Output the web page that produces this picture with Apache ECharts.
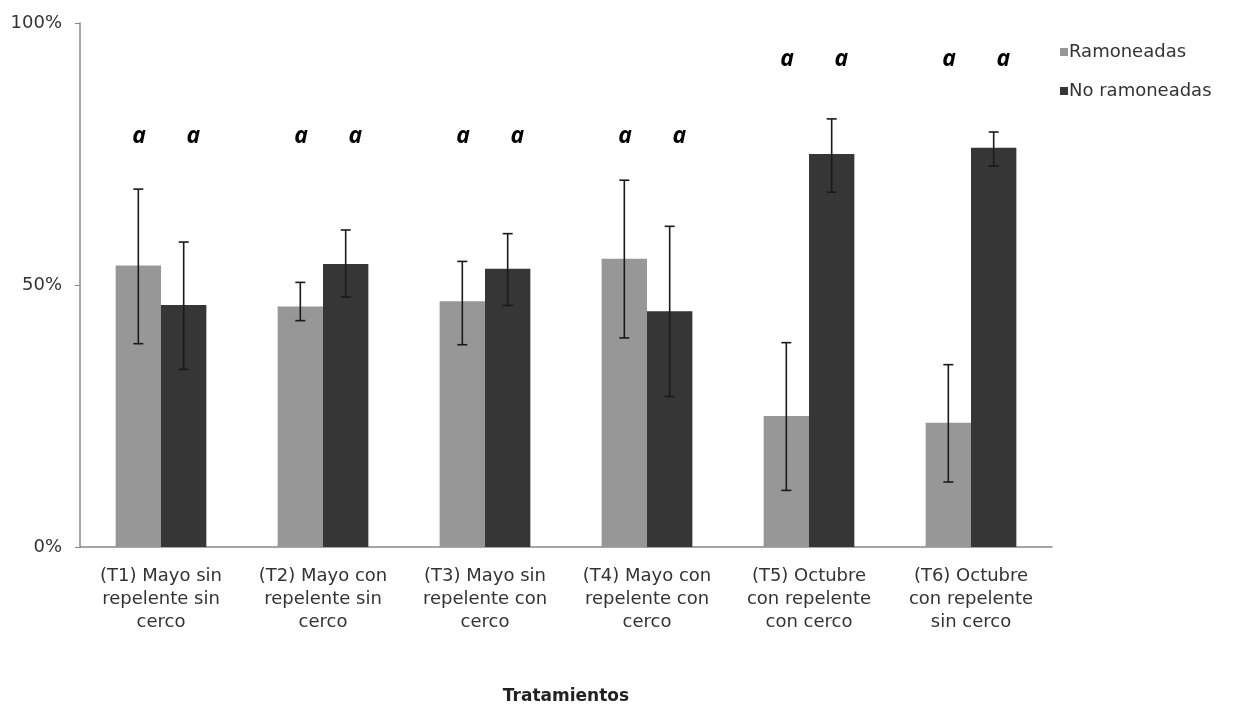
<!DOCTYPE html>
<html>
<head>
<meta charset="utf-8">
<script src="https://cdn.jsdelivr.net/npm/echarts@6/dist/echarts.min.js"></script>
<style>html,body{margin:0;padding:0;background:#fff;}#c{width:1233px;height:715px;}</style>
</head>
<body>
<div id="c"></div>
<script>
const categories = [
  "(T1) Mayo sin\nrepelente sin\ncerco",
  "(T2) Mayo con\nrepelente sin\ncerco",
  "(T3) Mayo sin\nrepelente con\ncerco",
  "(T4) Mayo con\nrepelente con\ncerco",
  "(T5) Octubre\ncon repelente\ncon cerco",
  "(T6) Octubre\ncon repelente\nsin cerco"
];
const seriesNames = ["Ramoneadas", "No ramoneadas"];
const ramoneadas = [53.7, 45.9, 46.9, 55.0, 25.0, 23.7];
const noRamoneadas = [46.2, 54.0, 53.1, 45.0, 75.0, 76.2];
const ramLow = [38.8, 43.2, 38.6, 39.9, 10.8, 12.4];
const ramHigh = [68.3, 50.5, 54.5, 70.0, 39.0, 34.8];
const noLow = [33.9, 47.7, 46.1, 28.7, 67.7, 72.7];
const noHigh = [58.2, 60.5, 59.8, 61.2, 81.7, 79.2];
const letters = [["a","a"],["a","a"],["a","a"],["a","a"],["a","a"],["a","a"]];
const letterLevel = [78.3, 78.3, 78.3, 78.3, 93, 93];
const yTicks = [0, 50, 100];

const GAP = 0.44;
const FONT = '"DejaVu Sans", Verdana, sans-serif';
const chart = echarts.init(document.getElementById('c'));

function errData(low, high) { return low.map((l, i) => [i, l, high[i]]); }

function errRender(side) {
  return function (params, api) {
    const i = api.value(0);
    const catW = api.size([1, 0])[0];
    const bw = catW * (1 - GAP) / 2;
    const cx = api.coord([i, 0])[0] + side * bw / 2;
    const top = api.coord([i, api.value(2)])[1];
    const bot = api.coord([i, api.value(1)])[1];
    const cap = 5;
    const st = { stroke: '#1a1a1a', lineWidth: 1.6 };
    return { type: 'group', children: [
      { type: 'line', shape: { x1: cx, y1: top, x2: cx, y2: bot }, style: st },
      { type: 'line', shape: { x1: cx - cap, y1: top, x2: cx + cap, y2: top }, style: st },
      { type: 'line', shape: { x1: cx - cap, y1: bot, x2: cx + cap, y2: bot }, style: st }
    ]};
  };
}

const letterData = [];
letters.forEach((pair, i) => pair.forEach((t, k) => letterData.push([i, letterLevel[i], k, t])));

chart.setOption({
  animation: false,
  textStyle: { fontFamily: FONT },
  grid: { left: 80, right: 181, top: 23, bottom: 168, containLabel: false },
  legend: {
    orient: 'vertical', left: 1055, top: 38, itemWidth: 8, itemHeight: 8, itemGap: 21,
    icon: 'rect', data: seriesNames,
    textStyle: { fontSize: 18, lineHeight: 18, color: '#333', fontFamily: FONT, padding: [0, 0, 0, -4] }
  },
  xAxis: {
    type: 'category', data: categories,
    name: 'Tratamientos', nameLocation: 'middle', nameGap: 141,
    nameTextStyle: { fontSize: 17, fontWeight: 'bold', color: '#222', fontFamily: FONT },
    axisLine: { lineStyle: { color: '#888', width: 1.5 } },
    axisTick: { length: 5, lineStyle: { color: '#888' } },
    axisLabel: { fontSize: 18, color: '#333', lineHeight: 23, margin: 18, interval: 0, fontFamily: FONT }
  },
  yAxis: {
    type: 'value', min: 0, max: 100, interval: 50,
    axisLine: { show: true, lineStyle: { color: '#888', width: 1.5 } },
    axisTick: { show: true, length: 5, lineStyle: { color: '#888' } },
    splitLine: { show: false },
    axisLabel: { fontSize: 18, color: '#333', margin: 18, fontFamily: FONT,
      formatter: v => yTicks.includes(v) ? v + '%' : '' }
  },
  series: [
    { name: seriesNames[0], type: 'bar', data: ramoneadas, barGap: '0%', barCategoryGap: (GAP * 100) + '%',
      itemStyle: { color: '#979797' } },
    { name: seriesNames[1], type: 'bar', data: noRamoneadas, barGap: '0%', barCategoryGap: (GAP * 100) + '%',
      itemStyle: { color: '#363636' } },
    { type: 'custom', data: errData(ramLow, ramHigh), renderItem: errRender(-1), z: 5, silent: true },
    { type: 'custom', data: errData(noLow, noHigh), renderItem: errRender(1), z: 5, silent: true },
    { type: 'custom', data: letterData, z: 6, silent: true,
      renderItem: function (params, api) {
        const i = api.value(0);
        const k = api.value(2);
        const catW = api.size([1, 0])[0];
        const p = api.coord([i, api.value(1)]);
        const x = p[0] + (k === 0 ? -0.135 : 0.2) * catW;
        return { type: 'text', x: x, y: p[1], style: {
          text: letters[i][k], fill: '#000', align: 'center', verticalAlign: 'middle',
          font: 'italic bold 23px "Open Sans", sans-serif' } };
      } }
  ]
});
</script>
</body>
</html>
